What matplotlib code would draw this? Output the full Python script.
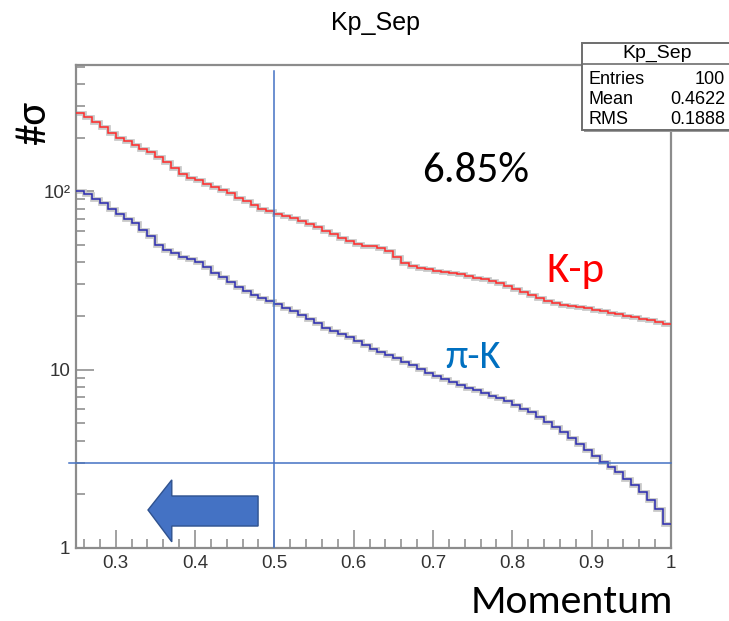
import numpy as np
import matplotlib
matplotlib.use("Agg")
import matplotlib.pyplot as plt
from matplotlib import font_manager
from matplotlib.patches import Polygon, Rectangle
from matplotlib.ticker import MultipleLocator, FixedLocator, LogLocator, NullFormatter, FuncFormatter


def pick_font(*names):
    have = {f.name for f in font_manager.fontManager.ttflist}
    for n in names:
        if n in have:
            return n
    return "DejaVu Sans"


ROOT_FONT = pick_font("Liberation Sans", "Arial", "DejaVu Sans")
PPT_FONT = pick_font("Carlito", "Calibri", "Lato", "Open Sans", "DejaVu Sans")

# histogram binning: 0.25 .. 1.00 in steps of 0.01 (visible part of Kp_Sep)
momentum_edges = np.round(np.arange(0.25, 1.0001, 0.01), 2)

# K-p separation (#sigma), one value per bin
kp_sep = [275, 262, 245, 228, 212, 200, 190, 182, 173, 165,
          156, 146, 135, 125, 119, 115, 110, 106, 102, 98,
          92, 88, 84, 80, 77, 75, 73, 71, 68, 65.5,
          63, 60, 57.5, 55, 52.5, 50.5, 49.5, 49, 48, 46,
          43, 39.5, 38, 37.2, 36.6, 35.8, 35.2, 34.8, 34.3, 33.5,
          32.8, 32.2, 31.4, 30.5, 29.6, 28.4, 27.3, 26.3, 25.2, 24.4,
          23.6, 23.0, 22.7, 22.4, 22.1, 21.7, 21.3, 20.8, 20.4, 20.0,
          19.6, 19.2, 18.9, 18.6, 18.1]

# pi-K separation (#sigma)
pik_sep = [100, 96, 91, 86, 80, 75, 70, 66, 61, 56,
           50, 47, 45, 43, 41.5, 40, 37.5, 35, 33, 31,
           29, 27.5, 26.2, 25.3, 24.2, 23.2, 22.2, 21.2, 20.2, 19.2,
           18.2, 17.2, 16.5, 15.8, 15.2, 14.5, 13.8, 13.1, 12.6, 12.1,
           11.6, 11.1, 10.6, 10.1, 9.6, 9.2, 8.85, 8.5, 8.2, 7.9,
           7.65, 7.4, 7.15, 6.9, 6.65, 6.35, 6.05, 5.75, 5.45, 5.1,
           4.75, 4.45, 4.15, 3.85, 3.55, 3.3, 3.05, 2.85, 2.65, 2.45,
           2.25, 2.05, 1.85, 1.65, 1.37]

stats_rows = [("Entries", "100"), ("Mean", "0.4622"), ("RMS", "0.1888")]
cut_momentum = 0.5
cut_sigma = 3
fraction_label = "6.85%"

W, H = 729, 621
fig = plt.figure(figsize=(W / 100, H / 100), dpi=100)
ax = fig.add_axes([76 / W, 1 - 548 / H, 595 / W, 483 / H])

# histograms with a soft grey halo like the ROOT screenshot
for vals, col in [(kp_sep, "#ff2a2a"), (pik_sep, "#2b2bb0")]:
    ax.stairs(vals, momentum_edges, baseline=None, color="#c8c8c8", lw=3.4, zorder=2)
    ax.stairs(vals, momentum_edges, baseline=None, color=col, lw=1.1, zorder=3)

ax.set_yscale("log")
ax.set_xlim(0.25, 1.0)
ax.set_ylim(1, 510)

ax.xaxis.set_major_locator(MultipleLocator(0.1))
ax.xaxis.set_minor_locator(MultipleLocator(0.02))
ax.xaxis.set_major_formatter(FuncFormatter(lambda v, p: f"{v:g}"))
ax.yaxis.set_major_locator(FixedLocator([1, 10, 100]))
ax.yaxis.set_major_formatter(FuncFormatter(lambda v, p: {1: "1", 10: "10", 100: "10²"}.get(int(round(v)), "")))
ax.yaxis.set_minor_locator(LogLocator(base=10, subs=np.arange(2, 10)))
ax.yaxis.set_minor_formatter(NullFormatter())

ax.tick_params(which="major", direction="in", length=13, width=1.3, color="#9a9a9a",
               labelsize=13.5, top=False, right=False)
ax.tick_params(which="minor", direction="in", length=6.5, width=1.3, color="#9a9a9a",
               top=False, right=False)
ax.tick_params(axis="x", pad=5)
ax.tick_params(axis="y", pad=4)
for lab in ax.get_xticklabels() + ax.get_yticklabels():
    lab.set_family(ROOT_FONT)
    lab.set_color("#333333")
for side, sp in ax.spines.items():
    sp.set_color("#8c8c8c")
    sp.set_linewidth(1.6)

# cut lines
ax.axvline(cut_momentum, ymin=0, ymax=(548 - 71) / 483, color="#4472c4", lw=1.1, zorder=4)
ax.axhline(cut_sigma, xmin=-7 / 595, xmax=1, color="#4472c4", lw=1.1, zorder=4, clip_on=False)

# block arrow pointing left (axes fraction)
arrow = Polygon([(0.121, 0.0787), (0.161, 0.141), (0.161, 0.1077), (0.306, 0.1077),
                 (0.306, 0.0455), (0.161, 0.0455), (0.161, 0.0128)],
                closed=True, transform=ax.transAxes, fc="#4472c4", ec="#2f528f", lw=1.0, zorder=5)
ax.add_patch(arrow)

# title
fig.text(376 / W, 1 - 23 / H, "Kp_Sep", ha="center", va="center", fontsize=18, family=ROOT_FONT)

# stats box
sx0, sy0, sy1 = 582, 43, 130
fig.add_artist(Rectangle(((sx0 + 2) / W, 1 - (sy1 + 2) / H), (W - sx0) / W, (sy1 - sy0) / H,
                         transform=fig.transFigure, fc="#9a9a9a", ec="none", zorder=9))
fig.add_artist(Rectangle((sx0 / W, 1 - sy1 / H), (W + 10 - sx0) / W, (sy1 - sy0) / H,
                         transform=fig.transFigure, fc="white", ec="#6e6e6e", lw=1.4, zorder=10))
fig.add_artist(plt.Line2D([sx0 / W, 1], [1 - 63.5 / H, 1 - 63.5 / H], transform=fig.transFigure,
                          color="#6e6e6e", lw=1.2, zorder=11))
fig.text(657 / W, 1 - 53 / H, "Kp_Sep", ha="center", va="center", fontsize=14,
         family=ROOT_FONT, zorder=12)
for i, (k, v) in enumerate(stats_rows):
    yy = 1 - (79.5 + 20 * i) / H
    fig.text(589 / W, yy, k, ha="left", va="center", fontsize=13, family=ROOT_FONT, zorder=12)
    fig.text(725 / W, yy, v, ha="right", va="center", fontsize=13, family=ROOT_FONT, zorder=12)

# slide annotations
fig.text(476 / W, 1 - 170 / H, fraction_label, ha="center", va="center", fontsize=31,
         family=[PPT_FONT, "DejaVu Sans"])
fig.text(575 / W, 1 - 271 / H, "K-p", ha="center", va="center", fontsize=31,
         family=[PPT_FONT, "DejaVu Sans"], color="#ff0000")
fig.text(473 / W, 1 - 357 / H, "π-K", ha="center", va="center", fontsize=29,
         family=[PPT_FONT, "DejaVu Sans"], color="#0070c0")
fig.text(34 / W, 1 - 123 / H, "#σ", ha="center", va="center", fontsize=31, rotation=90,
         family=[PPT_FONT, "DejaVu Sans"])
fig.text(673 / W, 1 - 620 / H, "Momentum", ha="right", va="bottom", fontsize=30,
         family=[PPT_FONT, "DejaVu Sans"])

fig.savefig("out.png", dpi=100)
